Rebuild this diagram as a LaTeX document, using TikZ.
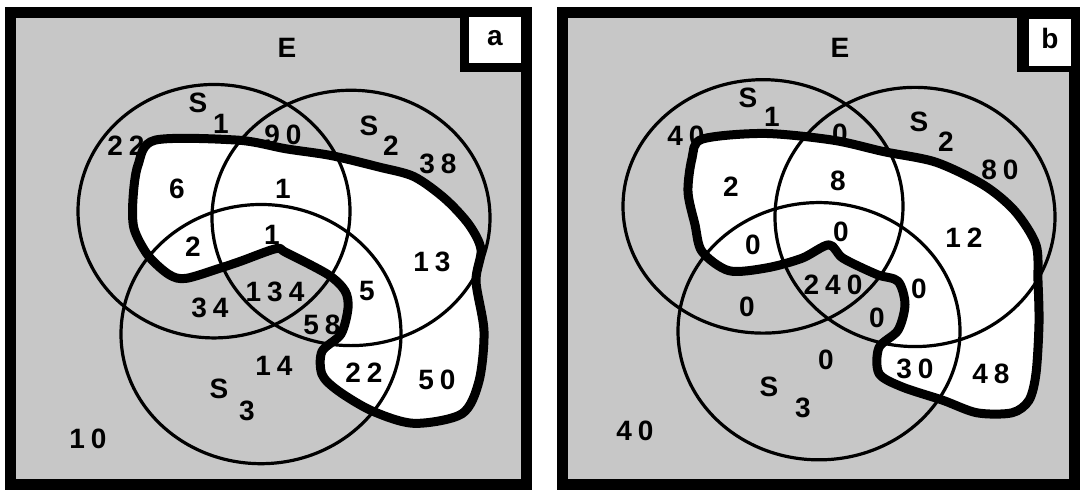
\documentclass[tikz,border=0pt]{standalone}
\usepackage{fontspec}
\setmainfont{Liberation Sans}
\newcommand\ks{\kern6pt}
\begin{document}
\begin{tikzpicture}[x=1pt,y=-1pt,
  lbl/.style={font=\fontsize{28}{30}\selectfont\bfseries, inner sep=0pt},
  stip/.style={fill=black!22},
  frame/.style={line width=11pt},
  setline/.style={line width=3.2pt},
  blob/.style={line width=9pt, line join=round}]
\useasboundingbox (0,0) rectangle (1080,493);
% ---------- panel a ----------
\fill[stip] (10,12) rectangle (527,485);
\begin{scope}[y=-0.96pt]
\fill[white] plot[smooth cycle, tension=0.5] coordinates {
 (155,146) (238,146) (286,155) (331,162) (379,174) (414,184) (445,207) (469,234)
 (481,260) (476,293) (484,345) (479,397) (462,431) (414,441) (372,428) (338,407)
 (322,390) (322,366) (341,348) (348,321) (345,303) (328,286) (286,263) (276,259)
 (241,272) (221,279) (186,290) (169,286) (148,266) (134,238) (133,207) (138,172)};
\draw[setline] (214,220) ellipse [x radius=136, y radius=132];
\draw[setline] (351,227) ellipse [x radius=139, y radius=133];
\draw[setline] (261,348) ellipse [x radius=140, y radius=135];
\draw[blob] plot[smooth cycle, tension=0.5] coordinates {
 (155,146) (238,146) (286,155) (331,162) (379,174) (414,184) (445,207) (469,234)
 (481,260) (476,293) (484,345) (479,397) (462,431) (414,441) (372,428) (338,407)
 (322,390) (322,366) (341,348) (348,321) (345,303) (328,286) (286,263) (276,259)
 (241,272) (221,279) (186,290) (169,286) (148,266) (134,238) (133,207) (138,172)};
\node[lbl] (aE) at (287,50) {E};
\node[lbl] (aS1) at (198,107) {S};
\node[lbl] (aS1i) at (221,129) {1};
\node[lbl] (aS2) at (369,131) {S};
\node[lbl] (aS2i) at (391,152) {2};
\node[lbl] (aS3) at (219,405) {S};
\node[lbl] (aS3i) at (247,428) {3};
\node[lbl] (a1) at (126,152) {2\ks2};
\node[lbl] (a2) at (283,140) {9\ks0};
\node[lbl] (a3) at (438,171) {3\ks8};
\node[lbl] (a4) at (177,197) {6};
\node[lbl] (a5) at (283,197) {1};
\node[lbl] (a6) at (272,245) {1};
\node[lbl] (a7) at (193,257) {2};
\node[lbl] (a8) at (432,273) {1\ks3};
\node[lbl] (a9) at (275,304) {1\ks3\ks4};
\node[lbl] (a10) at (367,303) {5};
\node[lbl] (a11) at (210,321) {3\ks4};
\node[lbl] (a12) at (322,338) {5\ks8};
\node[lbl] (a13) at (274,381) {1\ks4};
\node[lbl] (a14) at (364,388) {2\ks2};
\node[lbl] (a15) at (437,396) {5\ks0};
\node[lbl] (a16) at (88,457) {1\ks0};
\end{scope}
\draw[frame] (10.5,12.5) rectangle (526.5,484.5);
\fill (460,7) rectangle (532,72);
\fill[white] (469,17) rectangle (521,63);
\node[lbl] (la) at (495,38) {a};
% ---------- panel b ----------
\fill[stip] (562,12) rectangle (1075,485);
\begin{scope}[y=-0.96pt]
\fill[white] plot[smooth cycle, tension=0.5] coordinates {
 (702,145) (764,139) (833,146) (884,158) (936,169) (984,193) (1015,220) (1036,255)
 (1038,293) (1039,337) (1036,389) (1029,417) (1012,430) (977,430) (943,417) (902,403)
 (879,389) (879,362) (898,344) (905,317) (898,293) (877,286) (843,269) (829,255)
 (802,269) (767,279) (729,282) (702,262) (695,234) (688,200) (692,165)};
\draw[setline] (763,215) ellipse [x radius=140, y radius=132];
\draw[setline] (915,226) ellipse [x radius=140, y radius=135];
\draw[setline] (819,345) ellipse [x radius=141, y radius=134];
\draw[blob] plot[smooth cycle, tension=0.5] coordinates {
 (702,145) (764,139) (833,146) (884,158) (936,169) (984,193) (1015,220) (1036,255)
 (1038,293) (1039,337) (1036,389) (1029,417) (1012,430) (977,430) (943,417) (902,403)
 (879,389) (879,362) (898,344) (905,317) (898,293) (877,286) (843,269) (829,255)
 (802,269) (767,279) (729,282) (702,262) (695,234) (688,200) (692,165)};
\node[lbl] (bE) at (840,50) {E};
\node[lbl] (bS1) at (748,102) {S};
\node[lbl] (bS1i) at (772,122) {1};
\node[lbl] (bS2) at (919,127) {S};
\node[lbl] (bS2i) at (946,148) {2};
\node[lbl] (bS3) at (769,403) {S};
\node[lbl] (bS3i) at (803,425) {3};
\node[lbl] (b1) at (686,141) {4\ks0};
\node[lbl] (b2) at (840,139) {0};
\node[lbl] (b3) at (1000,177) {8\ks0};
\node[lbl] (b4) at (731,195) {2};
\node[lbl] (b5) at (838,188) {8};
\node[lbl] (b6) at (841,241) {0};
\node[lbl] (b7) at (753,255) {0};
\node[lbl] (b8) at (964,248) {1\ks2};
\node[lbl] (b9) at (833,297) {2\ks4\ks0};
\node[lbl] (b10) at (919,301) {0};
\node[lbl] (b11) at (747,320) {0};
\node[lbl] (b12) at (877,331) {0};
\node[lbl] (b13) at (826,375) {0};
\node[lbl] (b14) at (915,384) {3\ks0};
\node[lbl] (b15) at (991,389) {4\ks8};
\node[lbl] (b16) at (635,449) {4\ks0};
\end{scope}
\draw[frame] (562.5,12.5) rectangle (1074.5,484.5);
\fill (1017,7) rectangle (1080,72);
\fill[white] (1029,19) rectangle (1071,66);
\node[lbl] (lb) at (1050,38) {b};
\end{tikzpicture}
\end{document}
